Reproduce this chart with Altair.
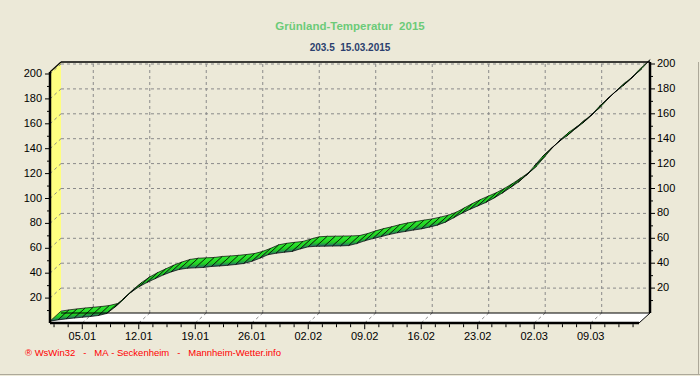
import altair as alt
import pandas as pd

# ---- data ----
days = list(range(74))  # 0 = 01.01.2015 ... 73 = 15.03.2015
values = [1.5, 2.5, 3.3, 4.0, 4.6, 5.2, 6.0, 7.6, 12.5, 19.0,
          24.5, 29.0, 32.5, 35.5, 38.5, 41.0, 43.0, 44.0, 44.3, 44.6,
          45.4, 45.8, 46.3, 47.0, 47.8, 49.5, 52.0, 54.8, 56.0, 56.8,
          57.5, 59.5, 61.2, 61.6, 61.7, 61.8, 61.9, 62.2, 63.8, 66.0,
          67.8, 69.3, 71.0, 72.4, 73.5, 74.6, 75.6, 77.0, 78.6, 81.0,
          84.5, 88.0, 91.2, 94.0, 96.8, 100.3, 104.2, 108.5, 113.0, 118.5,
          126.0, 133.5, 139.5, 145.5, 150.0, 155.5, 160.5, 166.5, 173.5, 179.5,
          185.5, 190.5, 196.5, 203.5]
tick_days = [4, 11, 18, 25, 32, 39, 46, 53, 60, 67]
tick_labels = ["05.01", "12.01", "19.01", "26.01", "02.02", "09.02",
               "16.02", "23.02", "02.03", "09.03"]
minor_days = [0.5, 2.25, 5.75, 7.5, 9.25, 12.75, 14.5, 16.25, 19.75, 21.5, 23.25,
              26.75, 28.5, 30.25, 33.75, 35.5, 37.25, 40.75, 42.5, 44.25, 47.75,
              49.5, 51.25, 54.75, 56.5, 58.25, 61.75, 63.5, 65.25, 68.75, 70.5, 72.25]
y_major = [20, 40, 60, 80, 100, 120, 140, 160, 180, 200]
y_minor = [10, 30, 50, 70, 90, 110, 130, 150, 170, 190]

NB = "\u00a0"
title_text = "Grünland-Temperatur" + NB + NB + "2015"
subtitle_text = "203.5" + NB + NB + "15.03.2015"
footer_text = ("®" + NB + "WsWin32" + NB * 3 + "-" + NB * 3 + "MA" + NB + "-" + NB +
               "Seckenheim" + NB * 3 + "-" + NB * 3 + "Mannheim-Wetter.info")

# ---- geometry of the pseudo-3D frame (in data units) ----
W, H = 600, 261
PX_DAY = 8.07
PX_VAL = 1.245
XMAX = W / PX_DAY
YMAX = H / PX_VAL
DX = 11 / PX_DAY   # depth offset in days
DY = 10 / PX_VAL   # depth offset in value units
XFR = XMAX - DX    # front right
YFT = YMAX - DY    # front top

BG = "#ECE9D8"
FONT = "Liberation Sans"
GRID = "#8A8A8A"

xs = alt.Scale(domain=[0, XMAX], nice=False, zero=False)
ys = alt.Scale(domain=[0, YMAX], nice=False, zero=False)


def X(field="x"):
    return alt.X(field + ":Q", scale=xs, axis=None)


def Y(field="y"):
    return alt.Y(field + ":Q", scale=ys, axis=None)


def rule_layer(df, color, width, dash=None):
    enc = dict(x=X(), y=Y())
    if "x2" in df.columns:
        enc["x2"] = "x2:Q"
    if "y2" in df.columns:
        enc["y2"] = "y2:Q"
    kw = dict(color=color, strokeWidth=width)
    if dash:
        kw["strokeDash"] = dash
    return alt.Chart(df).mark_rule(**kw).encode(**enc)


# back-plane grid
hg = pd.DataFrame({"v": y_major})
hg["y"] = hg["v"] + DY
hg["x"] = DX
hg["x2"] = XMAX
vg = pd.DataFrame({"d": tick_days})
vg["x"] = vg["d"] + DX
vg["y"] = DY
vg["y2"] = YMAX
# grid continuation on wall and floor
wg = pd.DataFrame({"v": y_major})
wg["x"] = 0.0
wg["x2"] = DX
wg["y"] = wg["v"]
wg["y2"] = wg["v"] + DY
fg = pd.DataFrame({"d": tick_days})
fg["x"] = fg["d"]
fg["x2"] = fg["d"] + DX
fg["y"] = 0.0
fg["y2"] = DY

wall = pd.DataFrame({"k": [0, 1, 2, 3],
                     "x": [0, 0, DX, DX],
                     "y": [0, YFT, YMAX, DY]})
floor = pd.DataFrame({"k": [0, 1, 2, 3],
                      "x": [0, XFR, XMAX, DX],
                      "y": [0, 0, DY, DY]})
wall_l = alt.Chart(wall).mark_line(fill="#FFFF80", stroke=None).encode(
    x=X(), y=Y(), order="k:O")
floor_l = alt.Chart(floor).mark_line(fill="white", stroke=None).encode(
    x=X(), y=Y(), order="k:O")

# ribbon polygons, one per day-to-day segment
rows = []
for i in range(len(days) - 1):
    d0, v0, d1, v1 = days[i], values[i], days[i + 1], values[i + 1]
    pts = [(d0, v0), (d1, v1), (d1 + DX, v1 + DY), (d0 + DX, v0 + DY), (d0, v0)]
    for k, (x, y) in enumerate(pts):
        rows.append({"seg": i, "k": k, "x": x, "y": y})
rib = pd.DataFrame(rows)

grad = alt.LinearGradient(gradient="linear", x1=0, y1=0, x2=0, y2=1,
                          stops=[alt.GradientStop(offset=0, color="#33F033"),
                                 alt.GradientStop(offset=0.6, color="#1FCF22"),
                                 alt.GradientStop(offset=1, color="#2C5E72")])
ribbon = alt.Chart(rib).mark_line(fill=grad, stroke="black", strokeWidth=0.7,
                                  strokeJoin="miter").encode(
    x=X(), y=Y(), detail="seg:N", order="k:O")

# frame edges
edges = pd.DataFrame({
    "x": [0, 0, DX, XMAX, 0, DX, XFR],
    "x2": [0, XFR, XMAX, XMAX, DX, XMAX, XMAX],
    "y": [0, 0, YMAX, DY, YFT, DY, 0],
    "y2": [YFT, 0, YMAX, YMAX, YMAX, DY, DY],
    "w": [2.5, 2.5, 1.5, 2.5, 1.2, 1.0, 1.0]})
edge_l = alt.Chart(edges).mark_rule(color="black").encode(
    x=X(), x2="x2:Q", y=Y(), y2="y2:Q",
    strokeWidth=alt.StrokeWidth("w:Q", scale=None, legend=None))

# bottom (front) date axis: ticks and labels
bt = pd.DataFrame({"x": tick_days + minor_days,
                   "len": [5] * len(tick_days) + [3] * len(minor_days)})
bt["y"] = -1.2 / PX_VAL
bt["y2"] = -(1.2 + bt["len"]) / PX_VAL
bl = pd.DataFrame({"x": tick_days, "lab": tick_labels})
bl["y"] = 0.0
blabels = alt.Chart(bl).mark_text(align="center", baseline="middle", dy=14,
                                  font=FONT, fontSize=11, color="black").encode(
    x=X(), y=Y(), text="lab:N")

# left (front) value axis
lt = pd.DataFrame({"y": y_major + y_minor,
                   "len": [4] * len(y_major) + [2] * len(y_minor)})
lt["x"] = -1.0 / PX_DAY
lt["x2"] = -(1.0 + lt["len"]) / PX_DAY
ll = pd.DataFrame({"y": y_major})
ll["x"] = 0.0
llabels = alt.Chart(ll).mark_text(align="right", baseline="middle", dx=-8,
                                  font=FONT, fontSize=11, color="black").encode(
    x=X(), y=Y(), text="y:Q")

# right (back-plane) value axis
rt = pd.DataFrame({"v": y_major + y_minor,
                   "len": [5] * len(y_major) + [3] * len(y_minor)})
rt["y"] = rt["v"] + DY
rt["x"] = XMAX
rt["x2"] = XMAX + rt["len"] / PX_DAY
rl = pd.DataFrame({"v": y_major})
rl["y"] = rl["v"] + DY
rl["x"] = XMAX
rlabels = alt.Chart(rl).mark_text(align="left", baseline="middle", dx=7,
                                  font=FONT, fontSize=11, color="black").encode(
    x=X(), y=Y(), text="v:Q")

footer = alt.Chart(pd.DataFrame({"t": [footer_text]})).mark_text(
    align="left", baseline="middle", font=FONT, fontSize=9.5, color="#FF0000").encode(
    x=alt.value(-25), y=alt.value(291), text="t:N")

border = alt.Chart(pd.DataFrame({"a": [0]})).mark_rule(color="#ACA899", strokeWidth=1).encode(
    x=alt.value(-50), x2=alt.value(650), y=alt.value(312.5))
border_r = alt.Chart(pd.DataFrame({"a": [0]})).mark_rule(color="#ACA899", strokeWidth=1).encode(
    x=alt.value(648.5), y=alt.value(0), y2=alt.value(313))

chart = alt.layer(
    wall_l, rule_layer(wg, GRID, 1, [3, 3]), rule_layer(hg, GRID, 1, [3, 3]),
    rule_layer(vg, GRID, 1, [3, 3]), floor_l, rule_layer(fg, GRID, 1, [3, 3]),
    ribbon, edge_l,
    rule_layer(bt[["x", "y", "y2"]], "black", 1), blabels,
    rule_layer(lt[["x", "x2", "y"]], "black", 1), llabels,
    rule_layer(rt[["x", "x2", "y"]], "black", 1), rlabels,
    footer, border, border_r
).properties(
    width=W, height=H,
    autosize=alt.AutoSizeParams(type="none"),
    padding={"left": 50, "top": 62, "right": 50, "bottom": 53},
    background=BG,
    title=alt.TitleParams(text=title_text, subtitle=subtitle_text, anchor="middle",
                          font=FONT, fontSize=11.5, fontWeight="bold", color="#6CCB78",
                          subtitleFont=FONT, subtitleFontSize=10,
                          subtitleFontWeight="bold", subtitleColor="#2B3F6E",
                          offset=5, subtitlePadding=11),
).configure_view(stroke=None)

chart.save("out.html", embed_options={"renderer": "svg", "actions": False})
